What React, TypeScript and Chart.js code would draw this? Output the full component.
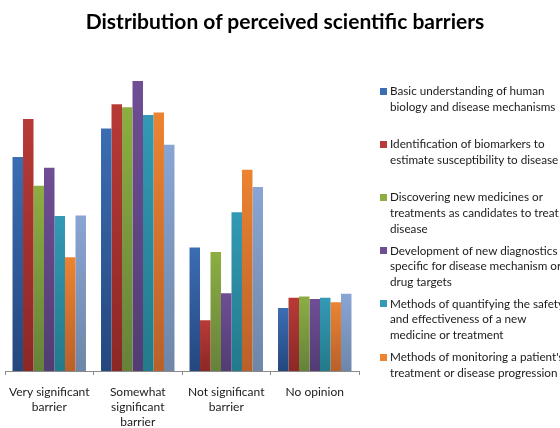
import React, { useEffect, useRef } from "react";
import { Chart, registerables } from "chart.js";

Chart.register(...registerables);

const categories: string[][] = [
  ["Very significant", "barrier"],
  ["Somewhat", "significant", "barrier"],
  ["Not significant", "barrier"],
  ["No opinion"],
];

const seriesLabels = [
  "Basic understanding of human biology and disease mechanisms",
  "Identification of biomarkers to estimate susceptibility to disease",
  "Discovering new medicines or treatments as candidates to treat disease",
  "Development of new diagnostics specific for disease mechanism or drug targets",
  "Methods of quantifying the safety and effectiveness of a new medicine or treatment",
  "Methods of monitoring a patient's treatment or disease progression",
  "Other",
];

const legendLines: string[][] = [
  ["Basic understanding of human", "biology and disease mechanisms"],
  ["Identification of biomarkers to", "estimate susceptibility to disease"],
  ["Discovering new medicines or", "treatments as candidates to treat", "disease"],
  ["Development of new diagnostics", "specific for disease mechanism or", "drug targets"],
  ["Methods of quantifying the safety", "and effectiveness of a new", "medicine or treatment"],
  ["Methods of monitoring a patient's", "treatment or disease progression"],
];

const basicUnderstanding = [33.3, 37.7, 19.2, 9.8];
const biomarkers = [39.2, 41.5, 7.9, 11.4];
const newMedicines = [28.8, 41.0, 18.5, 11.6];
const newDiagnostics = [31.6, 45.1, 12.1, 11.2];
const safetyMethods = [24.1, 39.8, 24.7, 11.4];
const monitoring = [17.7, 40.2, 31.3, 10.7];
const other = [24.2, 35.2, 28.6, 12.0];

const seriesValues = [
  basicUnderstanding,
  biomarkers,
  newMedicines,
  newDiagnostics,
  safetyMethods,
  monitoring,
  other,
];

const topColors = ["#3b6db3", "#b83a36", "#8cae42", "#6f4e95", "#3399b5", "#ec8431", "#89a5d4"];
const bottomColors = ["#24477e", "#8c2826", "#66823a", "#523c72", "#237a8a", "#b9602a", "#6e86a8"];

const FONT = "Lato, 'Open Sans', sans-serif";

function makeFill(i: number) {
  return (ctx: any) => {
    const chart = ctx.chart;
    const area = chart.chartArea;
    if (!area || ctx.type !== "data" || !chart.scales.y) return topColors[i];
    const y = chart.scales.y;
    const v = typeof ctx.raw === "number" ? ctx.raw : 0;
    const yTop = y.getPixelForValue(v);
    const yBot = y.getPixelForValue(0);
    if (!isFinite(yTop) || !isFinite(yBot) || yTop === yBot) return topColors[i];
    const g = chart.ctx.createLinearGradient(0, yTop, 0, yBot);
    g.addColorStop(0, topColors[i]);
    g.addColorStop(1, bottomColors[i]);
    return g;
  };
}

export default function App() {
  const ref = useRef<HTMLCanvasElement>(null);

  useEffect(() => {
    if (!ref.current) return;
    const chart = new Chart(ref.current, {
      type: "bar",
      data: {
        labels: categories as any,
        datasets: seriesLabels.map((label, i) => ({
          label,
          data: seriesValues[i],
          backgroundColor: makeFill(i) as any,
          borderWidth: 0,
          categoryPercentage: 0.83,
          barPercentage: 1,
        })),
      },
      options: {
        animation: false,
        responsive: false,
        maintainAspectRatio: false,
        layout: { padding: { left: 5, right: 201, top: 49.5, bottom: 0 } },
        plugins: {
          legend: { display: false },
          title: { display: false },
          tooltip: { enabled: false },
        },
        scales: {
          x: {
            grid: {
              display: true,
              drawOnChartArea: false,
              drawTicks: true,
              tickLength: 4,
              color: "#8a8a8a",
              offset: true,
            },
            border: { color: "#8a8a8a", width: 1 },
            ticks: {
              font: { family: FONT, size: 12, lineHeight: 1.25 },
              color: "#1a1a1a",
              padding: 10,
              maxRotation: 0,
              autoSkip: false,
            },
            afterFit: (s: any) => {
              s.height = 57;
              s.paddingLeft = 0;
              s.paddingRight = 0;
            },
          } as any,
          y: { display: false, min: 0, max: 50 },
        },
      },
    });
    return () => chart.destroy();
  }, []);

  return (
    <div
      style={{
        position: "fixed",
        left: 0,
        top: 0,
        width: 560,
        height: 428,
        overflow: "hidden",
        background: "#fff",
        fontFamily: FONT,
      }}
    >
      <canvas ref={ref} width={560} height={428} style={{ display: "block", position: "absolute", left: 0, top: 0 }} />
      <div
        style={{
          position: "absolute",
          left: 0,
          top: 8,
          width: 570,
          textAlign: "center",
          fontWeight: 700,
          fontSize: 21,
          color: "#000",
          whiteSpace: "nowrap",
        }}
      >
        Distribution of perceived scientific barriers
      </div>
      {legendLines.map((lines, i) => (
        <div
          key={i}
          style={{
            position: "absolute",
            left: 380,
            top: 83 + i * 53.2,
            whiteSpace: "nowrap",
            fontSize: 11.7,
            lineHeight: "15.6px",
            color: "#1a1a1a",
          }}
        >
          <span
            style={{
              position: "absolute",
              left: 0,
              top: 4.5,
              width: 7,
              height: 7,
              background: topColors[i],
            }}
          />
          <div style={{ marginLeft: 10 }}>
            {lines.map((l, j) => (
              <div key={j}>{l}</div>
            ))}
          </div>
        </div>
      ))}
    </div>
  );
}
